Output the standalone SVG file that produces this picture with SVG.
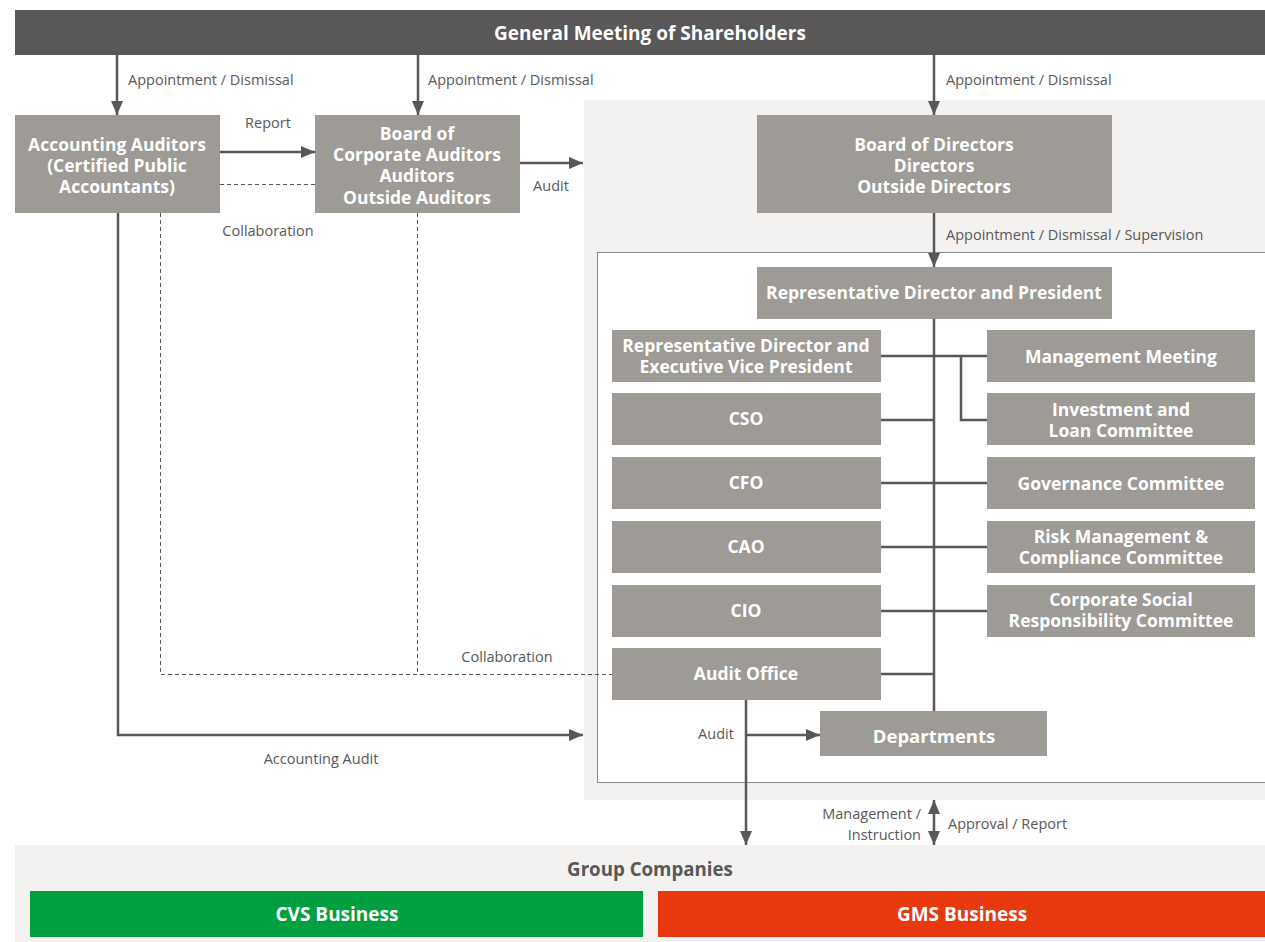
<svg xmlns="http://www.w3.org/2000/svg" width="1265" height="942" viewBox="0 0 1265 942">
<style>
.bg{fill:#f3f2f0}
.node{fill:#9e9a96}
.nt{font-family:"Open Sans","Noto Sans",sans-serif;font-weight:bold;font-size:17.5px;fill:#fff;text-anchor:middle}
.big{font-size:19px}
.lb{font-family:"Open Sans","Noto Sans",sans-serif;font-size:14.5px;fill:#595757}
.ln{stroke:#595757;stroke-width:2.5;fill:none}
.dl{stroke:#595757;stroke-width:1;fill:none;stroke-dasharray:4 3}
</style>
<defs>
<marker id="ah" markerUnits="userSpaceOnUse" markerWidth="14" markerHeight="12" viewBox="0 0 14 12" refX="14" refY="6" orient="auto-start-reverse">
<path d="M0,0 L14,6 L0,12 z" fill="#595757"/>
</marker>
</defs>
<rect width="1265" height="942" fill="#fff"/>
<rect class="bg" x="584" y="100" width="681" height="700"/>
<rect x="597.5" y="252.5" width="675" height="530" fill="#fff" stroke="#8a8a8a" stroke-width="1"/>
<rect class="bg" x="15" y="845" width="1250" height="97"/>

<g id="connectors">
<line class="ln" x1="117" y1="55" x2="117" y2="115" marker-end="url(#ah)"/>
<line class="ln" x1="418" y1="55" x2="418" y2="115" marker-end="url(#ah)"/>
<line class="ln" x1="934" y1="55" x2="934" y2="115" marker-end="url(#ah)"/>
<line class="ln" x1="220" y1="152" x2="315" y2="152" marker-end="url(#ah)"/>
<line class="dl" x1="220" y1="184.5" x2="315" y2="184.5"/>
<line class="ln" x1="520" y1="163" x2="583" y2="163" marker-end="url(#ah)"/>
<line class="ln" x1="934" y1="213" x2="934" y2="267" marker-end="url(#ah)"/>
<line class="ln" x1="934" y1="319" x2="934" y2="711"/>
<line class="ln" x1="881" y1="356" x2="987" y2="356"/>
<polyline class="ln" points="961,356 961,420 987,420"/>
<line class="ln" x1="881" y1="420" x2="934" y2="420"/>
<line class="ln" x1="881" y1="483" x2="987" y2="483"/>
<line class="ln" x1="881" y1="547" x2="987" y2="547"/>
<line class="ln" x1="881" y1="611" x2="987" y2="611"/>
<line class="ln" x1="881" y1="674" x2="934" y2="674"/>
<line class="ln" x1="746" y1="700" x2="746" y2="845" marker-end="url(#ah)"/>
<line class="ln" x1="746" y1="735" x2="820" y2="735" marker-end="url(#ah)"/>
<polyline class="ln" points="118,213 118,735 583,735" marker-end="url(#ah)"/>
<polyline class="dl" points="160.5,213 160.5,674.5 612,674.5"/>
<line class="dl" x1="417.5" y1="213" x2="417.5" y2="674"/>
<line class="ln" x1="934" y1="800" x2="934" y2="845" marker-start="url(#ah)" marker-end="url(#ah)"/>
</g>

<g id="labels">
<text class="lb" x="128" y="85">Appointment / Dismissal</text>
<text class="lb" x="428" y="85">Appointment / Dismissal</text>
<text class="lb" x="946" y="85">Appointment / Dismissal</text>
<text class="lb" x="268" y="128" text-anchor="middle">Report</text>
<text class="lb" x="268" y="236" text-anchor="middle">Collaboration</text>
<text class="lb" x="551" y="191" text-anchor="middle">Audit</text>
<text class="lb" x="946" y="240">Appointment / Dismissal / Supervision</text>
<text class="lb" x="507" y="662" text-anchor="middle">Collaboration</text>
<text class="lb" x="716" y="739" text-anchor="middle">Audit</text>
<text class="lb" x="321" y="764" text-anchor="middle">Accounting Audit</text>
<text class="lb" x="921" y="819" text-anchor="end">Management /</text>
<text class="lb" x="921" y="840" text-anchor="end">Instruction</text>
<text class="lb" x="948" y="829">Approval / Report</text>
</g>

<g id="gms">
<rect x="15" y="10" width="1250" height="45" fill="#595757"/>
<text class="nt big" x="650" y="40">General Meeting of Shareholders</text>
</g>
<g id="accounting-auditors">
<rect class="node" x="15" y="115" width="205" height="98"/>
<text class="nt" x="117" y="151">Accounting Auditors</text>
<text class="nt" x="117" y="172">(Certified Public</text>
<text class="nt" x="117" y="193">Accountants)</text>
</g>
<g id="corporate-auditors">
<rect class="node" x="315" y="115" width="205" height="98"/>
<text class="nt" x="417" y="140">Board of</text>
<text class="nt" x="417" y="161">Corporate Auditors</text>
<text class="nt" x="417" y="182">Auditors</text>
<text class="nt" x="417" y="204">Outside Auditors</text>
</g>
<g id="board-directors">
<rect class="node" x="757" y="115" width="355" height="98"/>
<text class="nt" x="934" y="151">Board of Directors</text>
<text class="nt" x="934" y="172">Directors</text>
<text class="nt" x="934" y="193">Outside Directors</text>
</g>
<g id="president">
<rect class="node" x="757" y="267" width="355" height="52"/>
<text class="nt" x="934" y="299">Representative Director and President</text>
</g>
<g id="evp">
<rect class="node" x="612" y="330" width="269" height="52"/>
<text class="nt" x="746" y="352">Representative Director and</text>
<text class="nt" x="746" y="373">Executive Vice President</text>
</g>
<g id="cso">
<rect class="node" x="612" y="393" width="269" height="52"/>
<text class="nt" x="746" y="425">CSO</text>
</g>
<g id="cfo">
<rect class="node" x="612" y="457" width="269" height="52"/>
<text class="nt" x="746" y="489">CFO</text>
</g>
<g id="cao">
<rect class="node" x="612" y="521" width="269" height="52"/>
<text class="nt" x="746" y="553">CAO</text>
</g>
<g id="cio">
<rect class="node" x="612" y="585" width="269" height="52"/>
<text class="nt" x="746" y="617">CIO</text>
</g>
<g id="audit-office">
<rect class="node" x="612" y="648" width="269" height="52"/>
<text class="nt" x="746" y="680">Audit Office</text>
</g>
<g id="management-meeting">
<rect class="node" x="987" y="330" width="268" height="52"/>
<text class="nt" x="1121" y="363">Management Meeting</text>
</g>
<g id="investment">
<rect class="node" x="987" y="393" width="268" height="52"/>
<text class="nt" x="1121" y="416">Investment and</text>
<text class="nt" x="1121" y="437">Loan Committee</text>
</g>
<g id="governance">
<rect class="node" x="987" y="457" width="268" height="52"/>
<text class="nt" x="1121" y="490">Governance Committee</text>
</g>
<g id="risk">
<rect class="node" x="987" y="521" width="268" height="52"/>
<text class="nt" x="1121" y="543">Risk Management &amp;</text>
<text class="nt" x="1121" y="564">Compliance Committee</text>
</g>
<g id="csr">
<rect class="node" x="987" y="585" width="268" height="52"/>
<text class="nt" x="1121" y="606">Corporate Social</text>
<text class="nt" x="1121" y="627">Responsibility Committee</text>
</g>
<g id="departments">
<rect class="node" x="820" y="711" width="227" height="45"/>
<text class="nt" x="934" y="743" style="font-size:18.5px">Departments</text>
</g>
<g id="group-companies">
<text class="nt" x="650" y="876" style="fill:#595757;font-size:18.7px">Group Companies</text>
</g>
<g id="cvs">
<rect x="30" y="891" width="613" height="46" fill="#00a040"/>
<text class="nt big" x="337" y="921">CVS Business</text>
</g>
<g id="gms-business">
<rect x="658" y="891" width="607" height="46" fill="#e8380d"/>
<text class="nt big" x="962" y="921">GMS Business</text>
</g>
</svg>
